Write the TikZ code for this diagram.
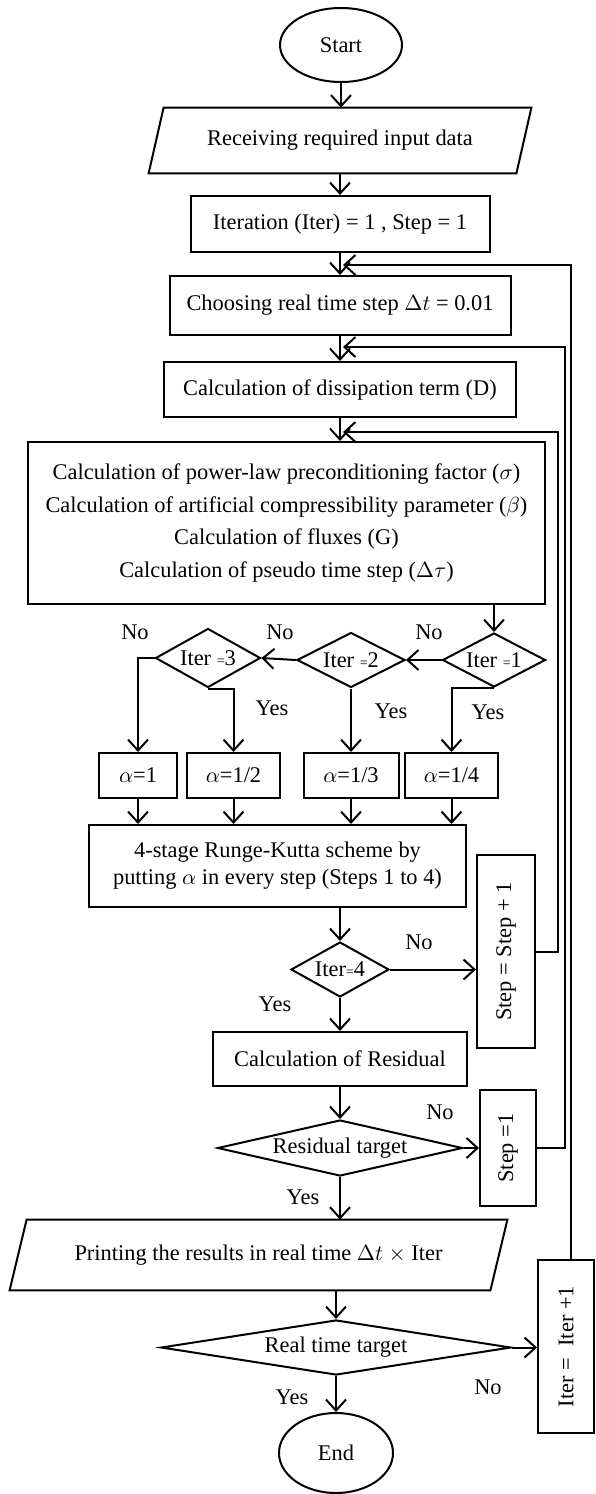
\documentclass[tikz,border=0pt]{standalone}
\usepackage{fontspec}
\setmainfont{Liberation Serif}
\usepackage{graphicx}
\usepackage{tikz}
\usetikzlibrary{shapes.geometric, arrows.meta, positioning, calc}

\tikzset{
  flowline/.style={line width=1pt},
  arr/.style={flowline, -{Straight Barb[length=5.5pt,width=10pt,line width=1pt]}},
  procbox/.style={draw, line width=1pt, align=center, inner sep=2pt},
  termnode/.style={draw, ellipse, line width=1pt, inner sep=0pt},
  decide/.style={draw, diamond, line width=1pt, inner sep=0pt, aspect=2},
  ionode/.style={align=center, inner sep=0pt},
  sidebox/.style={draw, line width=1pt, inner sep=0pt},
  lbl/.style={inner sep=0pt}
}

\begin{document}
\begin{tikzpicture}[x=0.5pt, y=-0.5pt, font=\fontsize{11.2}{13.4}\selectfont]
\useasboundingbox (0,0) rectangle (595,1494);

% main column
\node[termnode, minimum width=61pt, minimum height=37pt] (start) at (341,45) {Start};
\node[ionode, minimum width=191pt, minimum height=32.5pt] (input) at (340,140.5) {Receiving required input data};
\draw[flowline] ($(input.north west)+(7.5pt,0)$) -- (input.north east)
  -- ($(input.south east)+(-7.5pt,0)$) -- (input.south west) -- cycle;
\node[procbox, minimum width=149.5pt, minimum height=28pt] (init) at (340,224) {Iteration (Iter) = 1 , Step = 1};
\node[procbox, minimum width=170.5pt, minimum height=29.5pt] (choose) at (340,305.5) {Choosing real time step $\Delta t$ = 0.01};
\node[procbox, minimum width=176pt, minimum height=27.5pt] (diss) at (340,389.5) {Calculation of dissipation term (D)};
\node[procbox, minimum width=258.5pt, minimum height=81pt] (calc) at (286.5,523) {Calculation of power-law preconditioning factor ($\sigma$)\\[3pt]
  Calculation of artificial compressibility parameter ($\beta$)\\[3pt]
  Calculation of fluxes (G)\\[3pt]
  Calculation of pseudo time step ($\Delta\tau$)};

% Iter tests
\node[decide, minimum width=51.5pt, minimum height=27pt] (d1) at (494,660) {Iter {\scriptsize=}1};
\node[decide, minimum width=54pt, minimum height=27.5pt] (d2) at (351,660) {Iter {\scriptsize=}2};
\node[decide, minimum width=52.5pt, minimum height=29.5pt] (d3) at (208,658) {Iter {\scriptsize=}3};

\node[procbox, minimum width=39pt, minimum height=22.5pt] (a1) at (138,775.5) {$\alpha$=1};
\node[procbox, minimum width=46.5pt, minimum height=22.5pt] (a2) at (233.5,775.5) {$\alpha$=1/2};
\node[procbox, minimum width=47.5pt, minimum height=22.5pt] (a3) at (351,775.5) {$\alpha$=1/3};
\node[procbox, minimum width=46.5pt, minimum height=22.5pt] (a4) at (451.5,775.5) {$\alpha$=1/4};

\node[procbox, minimum width=188.5pt, minimum height=41pt] (rk) at (277.5,866) {4-stage Runge-Kutta scheme by\\
  putting $\alpha$ in every step (Steps 1 to 4)};
\node[decide, minimum width=49pt, minimum height=27.5pt] (d4) at (340,969.5) {Iter{\scriptsize=}4};
\node[sidebox, minimum width=29pt, minimum height=96.5pt] (stepinc) at (506,951.5) {\rotatebox{90}{Step = Step + 1}};

\node[procbox, minimum width=127pt, minimum height=27pt] (resid) at (340,1059) {Calculation of Residual};
\node[decide, aspect=4.4, minimum width=122.5pt, minimum height=28pt] (d5) at (340,1148) {Residual target};
\node[sidebox, minimum width=28pt, minimum height=58pt] (stepone) at (508,1148) {\rotatebox{90}{Step =1}};

\node[ionode, minimum width=248.5pt, minimum height=35pt] (print) at (258.5,1255) {Printing the results in real time $\Delta t$ $\times$ Iter};
\draw[flowline] ($(print.north west)+(8.5pt,0)$) -- (print.north east)
  -- ($(print.south east)+(-8.5pt,0)$) -- (print.south west) -- cycle;
\node[decide, aspect=6.5, minimum width=175pt, minimum height=27.5pt] (d6) at (336,1347.5) {Real time target};
\node[sidebox, minimum width=28pt, minimum height=86.5pt] (iterinc) at (566,1346.5) {\rotatebox{90}{Iter = \ Iter +1}};
\node[termnode, minimum width=57pt, minimum height=40pt] (stop) at (336,1453) {End};

% loop entry points
\coordinate (j1) at (343,265);
\coordinate (j2) at (343,347);
\coordinate (j3) at (343,432);

% connectors
\draw[arr] (start.south) -- (start.south |- input.north);
\draw[arr] (input) -- (init);
\draw[arr] (init) -- (choose);
\draw[arr] (choose) -- (diss);
\draw[arr] (diss.south) -- (diss.south |- calc.north);
\draw[arr] (d1.north |- calc.south) -- (d1.north);
\draw[arr] (d1.west) -- (d2.east);
\draw[arr] (d2.west) -- (d3.east);
\draw[arr] (d3.west) -- (a1.north |- d3.west) -- (a1.north);
\draw[arr] (d3.south) -- (a2.north |- d3.south) -- (a2.north);
\draw[arr] (d2.south) -- (a3.north);
\draw[arr] (d1.south) -- (a4.north |- d1.south) -- (a4.north);
\foreach \a in {a1,a2,a3,a4}
  \draw[arr] (\a.south) -- (\a.south |- rk.north);
\draw[arr] (d4.north |- rk.south) -- (d4.north);
\draw[arr] (d4.east) -- (d4.east -| stepinc.west);
\draw[arr] (d4.south) -- (resid.north);
\draw[arr] (resid) -- (d5);
\draw[arr] (d5.east) -- (stepone.west);
\draw[arr] (d5.south) -- (d5.south |- print.north);
\draw[arr] (d6.north |- print.south) -- (d6.north);
\draw[arr] (d6.east) -- (d6.east -| iterinc.west);
\draw[arr] (d6.south) -- (stop.north);

\draw[arr] (stepinc.east) -- ++(22,0) |- (j3);
\draw[arr] (stepone.east) -- ++(28,0) |- (j2);
\draw[arr] ([xshift=2.5pt]iterinc.north) |- (j1);

% labels
\node[lbl] at (135,632) {No};
\node[lbl] at (280,632) {No};
\node[lbl] at (429,632) {No};
\node[lbl] at (272,708) {Yes};
\node[lbl] at (391,711) {Yes};
\node[lbl] at (488,712) {Yes};
\node[lbl] at (419,942) {No};
\node[lbl] at (275,1004) {Yes};
\node[lbl] at (440,1112) {No};
\node[lbl] at (303,1197) {Yes};
\node[lbl] at (488,1387) {No};
\node[lbl] at (292,1397) {Yes};
\end{tikzpicture}
\end{document}
